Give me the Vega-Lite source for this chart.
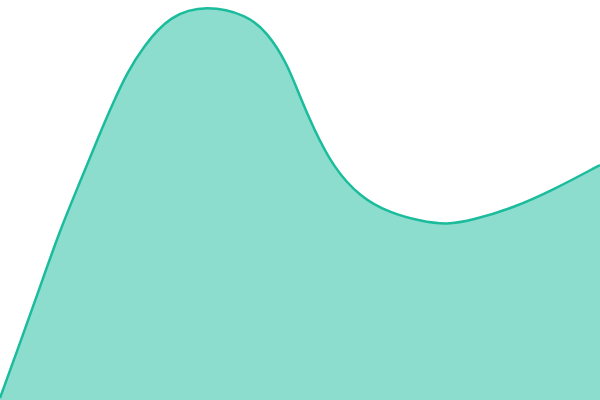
{
  "$schema": "https://vega.github.io/schema/vega-lite/v6.json",
  "autosize": "none",
  "width": 600,
  "height": 400,
  "padding": 0,
  "background": "white",
  "config": {"view": {"stroke": null}},
  "data": {
    "values": [
      {"x": 0, "y": 2},
      {"x": 20, "y": 57},
      {"x": 40, "y": 113},
      {"x": 60, "y": 170},
      {"x": 80, "y": 218},
      {"x": 100, "y": 267},
      {"x": 113, "y": 297},
      {"x": 127, "y": 327},
      {"x": 143, "y": 353},
      {"x": 170, "y": 385},
      {"x": 207, "y": 395},
      {"x": 247, "y": 385},
      {"x": 267, "y": 368},
      {"x": 287, "y": 337},
      {"x": 300, "y": 303},
      {"x": 313, "y": 273},
      {"x": 333, "y": 233},
      {"x": 360, "y": 203},
      {"x": 390, "y": 187},
      {"x": 420, "y": 179},
      {"x": 447, "y": 175},
      {"x": 473, "y": 180},
      {"x": 513, "y": 192},
      {"x": 553, "y": 210},
      {"x": 600, "y": 235}
    ]
  },
  "mark": {
    "type": "area",
    "interpolate": "basis",
    "color": "#1abc9c",
    "fillOpacity": 0.5,
    "line": {"color": "#1abc9c", "strokeWidth": 2.5}
  },
  "encoding": {
    "x": {"field": "x", "type": "quantitative", "scale": {"domain": [0, 600], "nice": false, "zero": false}, "axis": null},
    "y": {"field": "y", "type": "quantitative", "scale": {"domain": [0, 400], "nice": false}, "axis": null}
  }
}
